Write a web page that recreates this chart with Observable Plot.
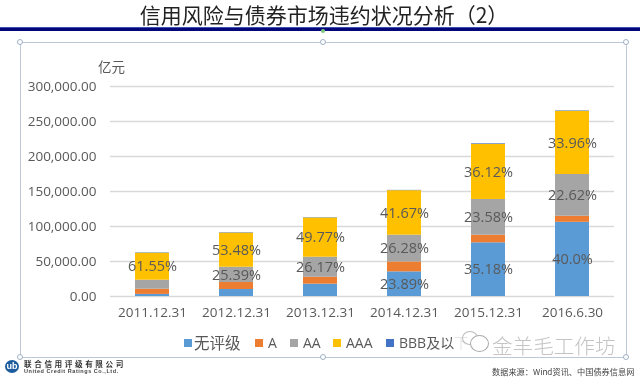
<!DOCTYPE html>
<html><head><meta charset="utf-8">
<script src="https://cdn.jsdelivr.net/npm/d3@7"></script>
<script src="https://cdn.jsdelivr.net/npm/@observablehq/plot@0.6"></script>
<style>
html,body{margin:0;padding:0;background:#fff;}
#page{position:relative;width:640px;height:379px;overflow:hidden;font-family:"Open Sans","Noto Sans CJK SC",sans-serif;filter:blur(.35px);}
#page>*{position:absolute;}
#title{left:8px;width:632px;top:2px;text-align:center;font:400 21px/24px "Noto Sans CJK SC",serif;color:#222;white-space:nowrap;}
#rule1{left:0;width:640px;top:27px;height:1px;background:#3a4fb0;}
#rule2{left:0;width:640px;top:28px;height:3px;background:#05057a;}
#frame{left:20px;top:42px;width:605px;height:314px;border:1px solid #bcc8d8;}
.h{width:4px;height:4px;border:1px solid #9fb0c4;border-radius:50%;background:#fff;}
#green{left:321px;top:29px;width:4px;height:4px;border-radius:50%;background:#7fc97f;}
#chart{left:0;top:0;}
#unit{left:98px;top:56px;font-size:13.5px;color:#595959;}
#legend{left:184px;top:333px;height:20px;font-size:14px;color:#595959;white-space:nowrap;}
#legend span{position:absolute;top:0;line-height:20px;}
#legend span.cjk{font-size:15.5px;}
#legend i{position:absolute;top:6px;width:8px;height:8px;}
#wm{left:454px;top:326px;width:168px;height:29px;background:rgba(255,255,255,.85);}
#bubble{left:470px;top:335px;width:17px;height:15px;border:1px solid #aaa;border-radius:50%;background:#fff;}
#bubble2{left:462px;top:331px;width:14px;height:12px;border:1px solid #bbb;border-radius:50%;}
#wmt{left:492px;top:330px;font:300 20.6px/30px "Noto Sans CJK SC";color:#c4c4c4;white-space:nowrap;}
#logo{left:5px;top:360px;width:14px;height:13px;border-radius:50%;background:#1d5c9c;color:#fff;font:bold 9px/13px "Liberation Sans";text-align:center;}
#co{left:24px;top:359px;font:bold 7.6px/9px "Noto Sans CJK SC";color:#333;letter-spacing:2.6px;white-space:nowrap;}
#coen{left:24px;top:368px;font:bold 5.5px/6px "Liberation Sans";color:#444;letter-spacing:.55px;white-space:nowrap;}
#src{left:492px;top:364px;font:8.2px/14px "Noto Sans CJK SC";color:#444;white-space:nowrap;}
</style></head><body>
<div id="page">
<div id="frame"></div>
<div id="chart"></div>
<div id="title">信用风险与债券市场违约状况分析（2）</div>
<div id="rule1"></div><div id="rule2"></div><div id="green"></div>
<div id="unit">亿元</div>
<div id="legend"></div>
<div id="wm"></div>
<div id="bubble2"></div><div id="bubble"></div>
<div id="wmt">金羊毛工作坊</div>
<div id="logo">ub</div>
<div id="co">联合信用评级有限公司</div>
<div id="coen">United Credit Ratings Co.,Ltd.</div>
<div id="src">数据来源：Wind资讯、中国债券信息网</div>
</div>
<script>
const dates = ["2011.12.31","2012.12.31","2013.12.31","2014.12.31","2015.12.31","2016.6.30"];
const series = ["无评级","A","AA","AAA","BBB及以下"];
const colors = ["#5B9BD5","#ED7D31","#A5A5A5","#FFC000","#4472C4"];
const unrated = [3000,10000,17600,35200,76700,106000];
const ratedA  = [7400,10000,9900,14200,10900,8700];
const ratedAA = [12900,21800,28600,38200,51000,59600];
const ratedAAA= [38500,48800,56000,63600,78800,90200];
const bbb     = [600,600,500,400,900,700];
const unratedLabels = ["","","","23.89%","35.18%","40.0%"];
const aaLabels  = ["","25.39%","26.17%","26.28%","23.58%","22.62%"];
const aaaLabels = ["61.55%","53.48%","49.77%","41.67%","36.12%","33.96%"];
const ticks = [0,50000,100000,150000,200000,250000,300000];

const columns = [unrated,ratedA,ratedAA,ratedAAA,bbb];
const labels = [unratedLabels,dates.map(()=>""),aaLabels,aaaLabels,dates.map(()=>"")];
const rows = series.flatMap((s,i)=>dates.map((d,j)=>({date:d,series:s,value:columns[i][j],label:labels[i][j]})));

const font = '"Open Sans","Noto Sans CJK SC",sans-serif';
const plot = Plot.plot({
  width:640,height:379,
  marginLeft:110,marginRight:26,marginTop:86,marginBottom:83,
  style:{background:"transparent",fontFamily:font,fontSize:"13.5px",color:"#595959"},
  x:{domain:dates,paddingInner:0.6,paddingOuter:0.3,label:null},
  y:{domain:[0,300000],label:null},
  color:{domain:series,range:colors},
  marks:[
    Plot.ruleY(ticks,{stroke:"#D9D9D9",strokeWidth:1.5}),
    Plot.barY(rows,{x:"date",y:"value",fill:"series",order:series}),
    Plot.text(rows,Plot.stackY({x:"date",y:"value",z:"series",order:series,text:"label",fill:"#595959",fontSize:14.5})),
    Plot.axisY({ticks,tickSize:0,tickPadding:14,tickFormat:d3.format(",.2f"),label:null,fill:"#595959"}),
    Plot.axisX({tickSize:0,tickPadding:11,label:null,fill:"#595959"})
  ]
});
document.getElementById("chart").appendChild(plot);

const lx=[0,71,106,149,202], tx=[10,84,119,162,215];
const lg=document.getElementById("legend");
series.forEach((s,i)=>{
  const b=document.createElement("i");b.style.left=lx[i]+"px";b.style.background=colors[i];lg.appendChild(b);
  const t=document.createElement("span");t.style.left=tx[i]+"px";t.textContent=s;if(i==0)t.className="cjk";lg.appendChild(t);
});
const page=document.getElementById("page");
[[20,42],[323,42],[626,42],[20,357],[323,357],[626,357]].forEach(([x,y])=>{
  const h=document.createElement("div");h.className="h";h.style.left=(x-3)+"px";h.style.top=(y-3)+"px";page.appendChild(h);
});
</script>
</body></html>
